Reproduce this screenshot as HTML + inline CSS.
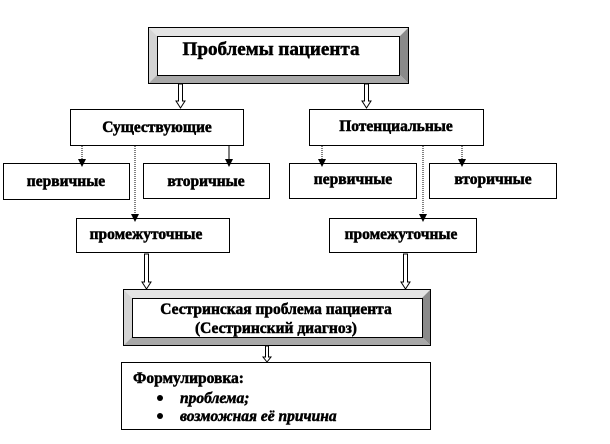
<!DOCTYPE html>
<html><head><meta charset="utf-8"><style>
html,body{margin:0;padding:0;background:#fff;}
svg{display:block;}
text{font-family:"Liberation Serif",serif;font-weight:bold;fill:#000;stroke:#000;stroke-width:0.5;}
</style></head><body>
<svg width="610" height="444" viewBox="0 0 610 444" xmlns="http://www.w3.org/2000/svg">
<defs>
<marker id="ah" markerWidth="8" markerHeight="8" refX="4" refY="4" orient="auto" markerUnits="userSpaceOnUse">
<path d="M0,0 L8,4 L0,8 z" fill="#000"/></marker>
</defs>
<g stroke="#000" stroke-width="1" fill="#fff">
<rect x="148.5" y="27.5" width="260" height="56"/>
<polygon points="149,28 408,28 400,36 157,36" fill="#e4e4e4" stroke="none"/>
<polygon points="149,28 157,36 157,75 149,83" fill="#d4d4d4" stroke="none"/>
<polygon points="408,28 408,83 400,75 400,36" fill="#8a8a8a" stroke="none"/>
<polygon points="149,83 408,83 400,75 157,75" fill="#a8a8a8" stroke="none"/>
<rect x="157.5" y="36.5" width="242" height="39"/>
<path d="M178.5,84 V101 H176 L180.5,108 L185,101 H182.5 V84 z"/>
<path d="M364.5,84 V101 H362 L366.5,108 L371,101 H368.5 V84 z"/>
<rect x="70.5" y="109.5" width="173" height="36"/>
<rect x="309.5" y="109.5" width="174" height="36"/>
<rect x="3.5" y="163.5" width="126" height="36"/>
<rect x="143.5" y="163.5" width="126" height="35"/>
<rect x="289.5" y="163.5" width="127" height="35"/>
<rect x="429.5" y="163.5" width="127" height="35"/>
<rect x="76.5" y="218.5" width="153" height="34"/>
<rect x="329.5" y="218.5" width="147" height="34"/>
</g>
<g stroke="#000" stroke-width="1" fill="none">
<line x1="82" y1="146" x2="82" y2="163" stroke-dasharray="1,1" marker-end="url(#ah)"/>
<line x1="229" y1="146" x2="229" y2="163" marker-end="url(#ah)"/>
<line x1="135" y1="146" x2="135" y2="218" stroke-dasharray="1,1" marker-end="url(#ah)"/>
<line x1="322" y1="146" x2="322" y2="163" stroke-dasharray="1,1" marker-end="url(#ah)"/>
<line x1="462" y1="146" x2="462" y2="163" stroke-dasharray="1,1" marker-end="url(#ah)"/>
<line x1="423" y1="146" x2="423" y2="218" stroke-dasharray="1,1" marker-end="url(#ah)"/>
</g>
<g stroke="#000" stroke-width="1" fill="#fff">
<path d="M144.5,254 V282 H142 L146.5,289 L151,282 H148.5 V254 z"/>
<path d="M403.5,254 V282 H401 L405.5,289 L410,282 H407.5 V254 z"/>
<rect x="123.5" y="289.5" width="307" height="56"/>
<polygon points="124,290 430,290 422,298 132,298" fill="#e4e4e4" stroke="none"/>
<polygon points="124,290 132,298 132,337 124,345" fill="#d4d4d4" stroke="none"/>
<polygon points="430,290 430,345 422,337 422,298" fill="#8a8a8a" stroke="none"/>
<polygon points="124,345 430,345 422,337 132,337" fill="#a8a8a8" stroke="none"/>
<rect x="132.5" y="298.5" width="290" height="39"/>
<path d="M265.5,346 V357 H263 L267,362 L271,357 H268.5 V346 z"/>
<rect x="121.5" y="362.5" width="309" height="67"/>
</g>
<text x="271" y="55" font-size="19" text-anchor="middle" textLength="177" lengthAdjust="spacingAndGlyphs">Проблемы пациента</text>
<g font-size="15.5" text-anchor="middle">
<text x="157" y="132">Существующие</text>
<text x="396" y="131">Потенциальные</text>
<text x="66" y="186">первичные</text>
<text x="206" y="186">вторичные</text>
<text x="353" y="184">первичные</text>
<text x="493" y="184">вторичные</text>
<text x="146" y="239">промежуточные</text>
<text x="401" y="239">промежуточные</text>
<text x="276" y="314">Сестринская проблема пациента</text>
<text x="276" y="333">(Сестринский диагноз)</text>
</g>
<text x="133" y="383" font-size="15.5">Формулировка:</text>
<circle cx="160" cy="398" r="3" fill="#000"/>
<circle cx="160" cy="416" r="3" fill="#000"/>
<text x="180" y="403" font-size="15.5" font-style="italic">проблема;</text>
<text x="180" y="421" font-size="15.5" font-style="italic">возможная её причина</text>
</svg>
</body></html>
